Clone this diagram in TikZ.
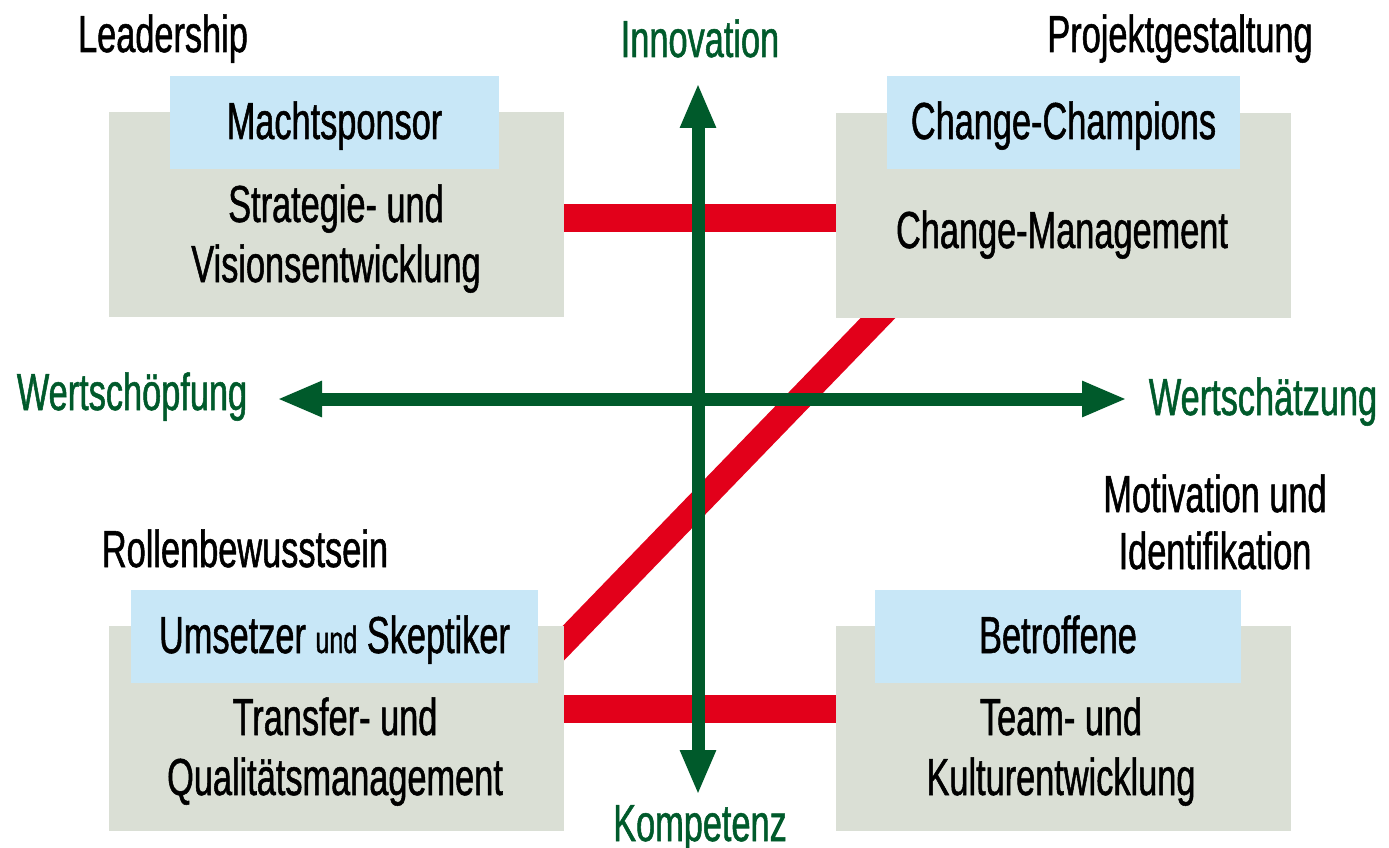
\documentclass[tikz,border=0pt]{standalone}
\usepackage{fontspec}
\setmainfont{Liberation Sans}[FakeStretch=0.66,FakeBold=1]
\usetikzlibrary{arrows.meta,backgrounds,calc}

\definecolor{feldgrau}{RGB}{218,223,213}
\definecolor{rollenblau}{RGB}{200,231,247}
\definecolor{balkenrot}{RGB}{226,0,26}
\definecolor{achsgruen}{RGB}{0,90,43}

\tikzset{every picture/.style={line width=0.75pt}}
\tikzset{
  feld/.style={fill=feldgrau, inner sep=0pt, minimum width=455pt, minimum height=205pt},
  rolle/.style={fill=rollenblau, inner sep=0pt, minimum height=93pt, text height=37pt, text depth=4pt},
  txt/.style={inner sep=0pt, align=center, anchor=base},
  gruen/.style={txt, text=achsgruen},
  achse/.style={achsgruen, line width=13pt, {Triangle[length=45pt,width=33pt]}-{Triangle[length=45pt,width=33pt]}},
  balken/.style={balkenrot, line width=28pt}
}

\begin{document}
\begin{tikzpicture}[x=1pt,y=1pt,yscale=-1,xscale=1,font=\fontsize{52}{60}\selectfont]
\useasboundingbox (0,0) rectangle (1389,848);

%Shape: Rectangle (Felder)
\node[feld] (tl) at (336.5,214.5) {};
\node[feld] (tr) at (1063.5,215.5) {};
\node[feld] (bl) at (336.5,728) {};
\node[feld] (br) at (1063.5,728) {};

%Shape: Rectangle (Rollen)
\node[rolle, minimum width=329pt] (tlrolle) at (334.5,122.5) {Machtsponsor};
\node[rolle, minimum width=353pt] (trrolle) at (1063.5,122.5) {Change-Champions};
\node[rolle, minimum width=407pt] (blrolle) at (334.5,636.5) {Umsetzer {\fontsize{38}{40}\selectfont und} Skeptiker};
\node[rolle, minimum width=366pt] (brrolle) at (1058,636.5) {Betroffene};

% Text Node (base = last line)
\node[txt] (tltxt) at (336,282) {Strategie- und\\Visionsentwicklung};
% Text Node
\node[txt] (trtxt) at (1062,248) {Change-Management};
% Text Node
\node[txt] (bltxt) at (335,795) {Transfer- und\\Qualitätsmanagement};
% Text Node
\node[txt] (brtxt) at (1061,795) {Team- und\\Kulturentwicklung};

% Text Node
\node[txt] (leadership) at (163,52) {Leadership};
% Text Node
\node[txt] (projekt) at (1180,52) {Projektgestaltung};
% Text Node
\node[txt] (rollen) at (245,567) {Rollenbewusstsein};
% Text Node
\node[txt, font=\fontsize{52}{57}\selectfont] (motivation) at (1215,569) {Motivation und\\Identifikation};

%Straight Lines (rote Balken)
\begin{scope}[on background layer]
\draw[balken] ($(tl.east)+(0,3.5)$) -- ($(tr.west)+(0,2.5)$);
\draw[balken] ($(bl.east)+(0,-19)$) -- ($(br.west)+(0,-19)$);
\draw[balken, line width=25pt, shorten <=-25pt, shorten >=-25pt] ($(bl.north east)+(0,17)$) -- ($(tr.south west)+(42,0)$);
\end{scope}

%Straight Lines (Achsen)
\coordinate (oben) at (698,83);
\coordinate (unten) at (698,795);
\coordinate (links) at (277,399);
\coordinate (rechts) at (1127,399);
\draw[achse] (unten) -- (oben);
\draw[achse] (links) -- (rechts);

% Text Node
\node[gruen] (innovation) at (700,57) {Innovation};
% Text Node
\node[gruen] (kompetenz) at (700,841) {Kompetenz};
% Text Node
\node[gruen] (schoepfung) at (132,410) {Wertschöpfung};
% Text Node
\node[gruen] (schaetzung) at (1263,415) {Wertschätzung};

\end{tikzpicture}
\end{document}
